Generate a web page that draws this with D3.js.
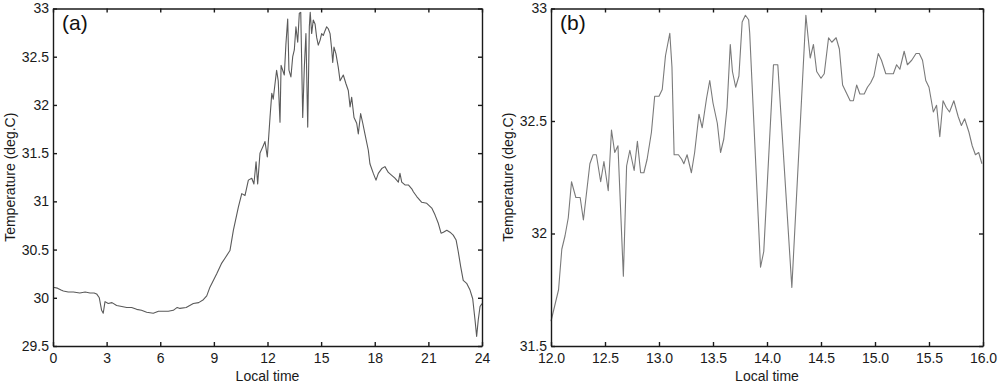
<!DOCTYPE html>
<html>
<head>
<meta charset="utf-8">
<script src="https://cdn.jsdelivr.net/npm/d3@7"></script>
<style>
  body { margin: 0; background: #fff; }
  svg  { display: block; font-family: "Liberation Sans", Arial, sans-serif; }
  .axis path, .axis line { stroke: #1a1a1a; stroke-width: 1.4; }
  .axis text { fill: #1a1a1a; font-size: 14px; }
</style>
</head>
<body>
<svg id="chart" width="1000" height="385"></svg>
<script>
// ── DATA panel (a): whole day ───────────────────────────────────────────
const hoursA = [0.00, 0.25, 0.45, 0.58, 0.85, 1.14, 1.50, 1.80, 2.07, 2.30,
  2.44, 2.59, 2.72, 2.81, 2.91, 3.09, 3.30, 3.56, 3.85, 4.12,
  4.40, 4.68, 4.95, 5.24, 5.61, 5.90, 6.17, 6.45, 6.73, 6.95,
  7.10, 7.45, 7.85, 8.15, 8.41, 8.60,
  8.78, 9.16, 9.44, 9.62, 9.90, 10.09, 10.37, 10.56, 10.74, 10.93,
  11.12, 11.24, 11.36, 11.45, 11.58, 11.77, 11.86, 11.99, 12.14, 12.24,
  12.32, 12.42, 12.51, 12.60, 12.70, 12.76, 12.85, 12.94, 13.03, 13.13,
  13.20, 13.31, 13.41, 13.50, 13.59, 13.69, 13.78, 13.86, 13.97, 14.06,
  14.15, 14.25, 14.34, 14.39, 14.47, 14.56, 14.66, 14.75, 14.84, 14.94,
  15.03, 15.12, 15.22, 15.31, 15.40, 15.50, 15.59, 15.65, 15.72, 15.83,
  15.96, 16.06, 16.24, 16.39, 16.52, 16.62, 16.71, 16.84, 16.99, 17.08,
  17.21, 17.33, 17.45, 17.64, 17.73, 17.92, 18.07, 18.20, 18.39, 18.57,
  18.76, 18.95, 19.13, 19.32, 19.41, 19.51, 19.69, 19.88, 20.07, 20.16,
  20.35, 20.63, 20.91, 21.19, 21.37, 21.56, 21.71, 21.84, 22.03, 22.21,
  22.39, 22.55, 22.67, 22.81, 22.95, 23.14, 23.33, 23.48, 23.61, 23.70,
  23.79, 23.89, 24.00];
const tempA = [30.11, 30.10, 30.08, 30.07, 30.06, 30.06, 30.05, 30.06, 30.05, 30.05,
  30.04, 30.00, 29.87, 29.84, 29.96, 29.94, 29.95, 29.92, 29.91, 29.90,
  29.90, 29.88, 29.87, 29.85, 29.84, 29.86, 29.86, 29.86, 29.87, 29.90,
  29.89, 29.90, 29.94, 29.95, 29.98, 30.02,
  30.11, 30.25, 30.36, 30.41, 30.49, 30.70, 30.94, 31.08, 31.06, 31.22,
  31.24, 31.18, 31.41, 31.18, 31.50, 31.58, 31.62, 31.46, 31.87, 32.12,
  32.06, 32.22, 32.36, 32.25, 31.82, 32.41, 32.36, 32.31, 32.63, 32.89,
  32.36, 32.29, 32.50, 32.57, 32.81, 32.65, 32.95, 32.96, 31.87, 32.39,
  32.74, 31.77, 32.81, 32.96, 32.74, 32.88, 32.84, 32.70, 32.62, 32.67,
  32.74, 32.72, 32.77, 32.81, 32.79, 32.74, 32.58, 32.44, 32.60, 32.53,
  32.39, 32.25, 32.31, 32.22, 32.15, 31.98, 32.08, 31.87, 31.81, 31.70,
  31.91, 31.81, 31.70, 31.53, 31.39, 31.29, 31.22, 31.29, 31.34, 31.36,
  31.30, 31.27, 31.24, 31.20, 31.29, 31.20, 31.17, 31.17, 31.13, 31.10,
  31.05, 30.99, 30.98, 30.93, 30.86, 30.77, 30.67, 30.68, 30.70, 30.68,
  30.65, 30.60, 30.48, 30.32, 30.18, 30.15, 30.08, 29.99, 29.77, 29.60,
  29.77, 29.91, 29.94];

// ── DATA panel (b): 12h-16h ─────────────────────────────────────────────
const hoursB = [12.00, 12.04, 12.07, 12.10, 12.13, 12.16, 12.19, 12.23, 12.27, 12.30,
  12.36, 12.39, 12.42, 12.46, 12.49, 12.53, 12.56, 12.59, 12.62, 12.67,
  12.70, 12.73, 12.77, 12.80, 12.83, 12.86, 12.89, 12.93, 12.96, 13.00,
  13.03, 13.06, 13.10, 13.12, 13.14, 13.18, 13.21, 13.23, 13.26, 13.30,
  13.33, 13.37, 13.40, 13.44, 13.47, 13.50, 13.54, 13.57, 13.60, 13.63,
  13.66, 13.68, 13.71, 13.74, 13.77, 13.80, 13.83, 13.84, 13.94, 13.97,
  14.06, 14.10, 14.23, 14.36, 14.40, 14.43, 14.46, 14.50, 14.53, 14.57,
  14.60, 14.64, 14.67, 14.70, 14.74, 14.77, 14.80, 14.83, 14.86, 14.90,
  14.93, 14.96, 14.99, 15.03, 15.06, 15.10, 15.14, 15.17, 15.20, 15.23,
  15.27, 15.30, 15.34, 15.38, 15.41, 15.44, 15.47, 15.50, 15.54, 15.57,
  15.60, 15.63, 15.66, 15.69, 15.73, 15.77, 15.80, 15.83, 15.87, 15.90,
  15.93, 15.96, 15.99];
const tempB = [31.61, 31.69, 31.75, 31.93, 31.99, 32.07, 32.23, 32.16, 32.16, 32.06,
  32.31, 32.35, 32.35, 32.23, 32.32, 32.19, 32.46, 32.36, 32.39, 31.81,
  32.30, 32.37, 32.28, 32.41, 32.27, 32.27, 32.33, 32.45, 32.61, 32.61,
  32.64, 32.79, 32.89, 32.74, 32.35, 32.35, 32.33, 32.31, 32.35, 32.27,
  32.36, 32.53, 32.47, 32.60, 32.68, 32.58, 32.49, 32.36, 32.42, 32.56,
  32.84, 32.72, 32.65, 32.70, 32.94, 32.97, 32.95, 32.89, 31.85, 31.92,
  32.75, 32.75, 31.76, 32.97, 32.78, 32.84, 32.72, 32.69, 32.71, 32.87,
  32.85, 32.87, 32.82, 32.66, 32.62, 32.59, 32.59, 32.66, 32.62, 32.62,
  32.65, 32.67, 32.70, 32.80, 32.77, 32.71, 32.71, 32.71, 32.75, 32.73,
  32.81, 32.75, 32.77, 32.80, 32.80, 32.77, 32.68, 32.65, 32.54, 32.57,
  32.43, 32.59, 32.56, 32.54, 32.59, 32.52, 32.48, 32.51, 32.45, 32.39,
  32.35, 32.36, 32.31];

// ── TICKS ───────────────────────────────────────────────────────────────
const xTicksA = [0, 3, 6, 9, 12, 15, 18, 21, 24];
const yTicksA = [29.5, 30, 30.5, 31, 31.5, 32, 32.5, 33];
const xTicksB = [12, 12.5, 13, 13.5, 14, 14.5, 15, 15.5, 16];
const yTicksB = [31.5, 32, 32.5, 33];

const svg = d3.select("#chart");

function drawPanel(p) {
  const x = d3.scaleLinear().domain(p.xDomain).range([p.left, p.right]);
  const y = d3.scaleLinear().domain(p.yDomain).range([p.bottom, p.top]);

  // data line first, frame on top
  const pts = p.hours.map((h, i) => [h, p.temp[i]]);
  svg.append("path")
    .datum(pts)
    .attr("fill", "none")
    .attr("stroke", p.color)
    .attr("stroke-width", 1.1)
    .attr("stroke-linejoin", "round")
    .attr("d", d3.line().x(d => x(d[0])).y(d => y(d[1])));

  // inward ticks on all four sides (matlab style)
  svg.append("g").attr("class", "axis")
    .attr("transform", `translate(0,${p.bottom})`)
    .call(d3.axisBottom(x).tickValues(p.xTicks).tickFormat(p.xFmt)
      .tickSizeInner(-4).tickSizeOuter(0).tickPadding(7));
  svg.append("g").attr("class", "axis")
    .attr("transform", `translate(0,${p.top})`)
    .call(d3.axisTop(x).tickValues(p.xTicks).tickFormat("")
      .tickSizeInner(-4).tickSizeOuter(0));
  svg.append("g").attr("class", "axis")
    .attr("transform", `translate(${p.left},0)`)
    .call(d3.axisLeft(y).tickValues(p.yTicks).tickFormat(d3.format("~g"))
      .tickSizeInner(-4).tickSizeOuter(0).tickPadding(4));
  svg.append("g").attr("class", "axis")
    .attr("transform", `translate(${p.right},0)`)
    .call(d3.axisRight(y).tickValues(p.yTicks).tickFormat("")
      .tickSizeInner(-4).tickSizeOuter(0));

  // titles
  const cx = (p.left + p.right) / 2, cy = (p.top + p.bottom) / 2;
  svg.append("text")
    .attr("x", cx).attr("y", 381)
    .attr("text-anchor", "middle")
    .attr("font-size", 14).attr("fill", "#1a1a1a")
    .text("Local time");
  svg.append("text")
    .attr("transform", `translate(${p.left - 38},${cy}) rotate(-90)`)
    .attr("text-anchor", "middle")
    .attr("font-size", 14).attr("fill", "#1a1a1a")
    .text("Temperature (deg.C)");
  svg.append("text")
    .attr("x", p.left + 9).attr("y", 30)
    .attr("font-size", 21).attr("fill", "#111")
    .text(p.tag);
}

drawPanel({
  tag: "(a)", left: 53, right: 482, top: 8.5, bottom: 346,
  xDomain: [0, 24], yDomain: [29.5, 33],
  xTicks: xTicksA, yTicks: yTicksA, xFmt: d3.format("d"),
  hours: hoursA, temp: tempA, color: "#5a5a5a"
});
drawPanel({
  tag: "(b)", left: 551, right: 983, top: 8.5, bottom: 346,
  xDomain: [12, 16], yDomain: [31.5, 33],
  xTicks: xTicksB, yTicks: yTicksB, xFmt: d3.format(".1f"),
  hours: hoursB, temp: tempB, color: "#7a7a7a"
});
</script>
</body>
</html>
